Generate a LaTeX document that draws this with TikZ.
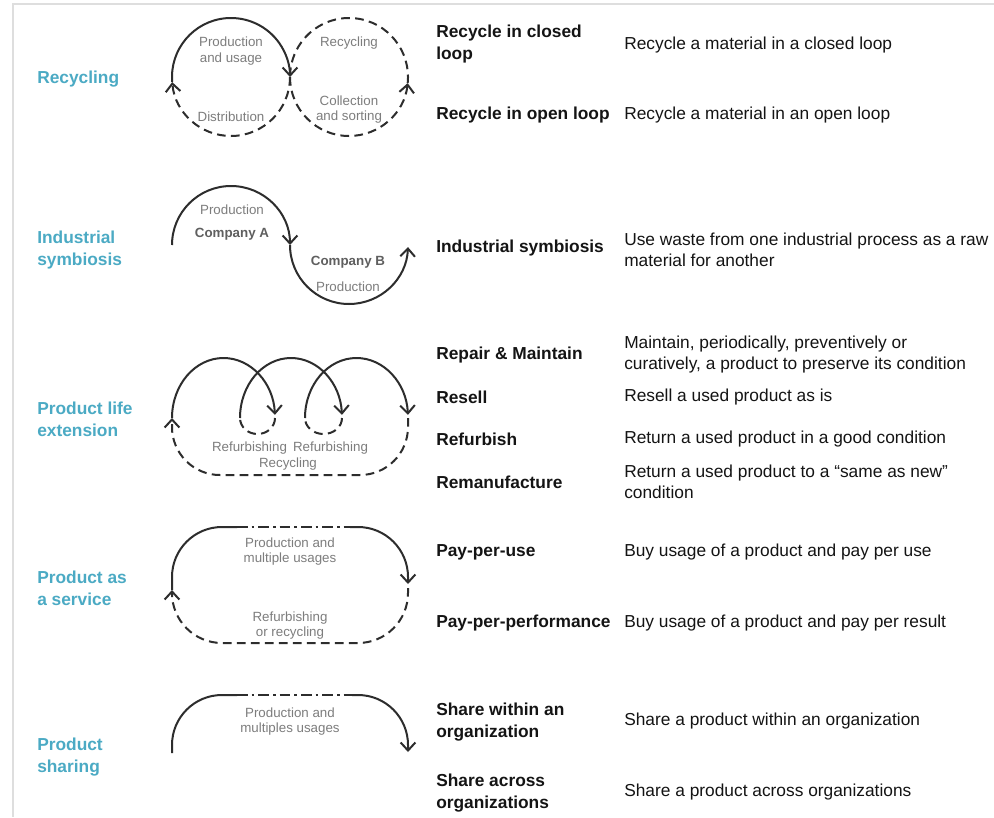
\documentclass[tikz,border=0pt]{standalone}
\usepackage{fontspec}
\setmainfont{Liberation Sans}
\usetikzlibrary{arrows.meta}
\definecolor{teal}{RGB}{75,170,196}
\definecolor{linec}{RGB}{45,45,45}
\definecolor{labgray}{RGB}{125,125,125}
\definecolor{compgray}{RGB}{95,95,95}
\definecolor{framegray}{RGB}{222,222,222}
\definecolor{txt}{RGB}{20,20,20}
\tikzset{
  flow/.style={draw=linec, line width=1.5pt},
  dashflow/.style={flow, dash pattern=on 6.5pt off 4pt},
  dashdot/.style={flow, dash pattern=on 8pt off 3pt on 2pt off 3pt},
  tip/.style={-{Straight Barb[length=6pt,width=11pt]}},
  cat/.style={font=\bfseries\fontsize{13}{16.5}\selectfont, text=teal, align=left, anchor=west, inner sep=0pt, yshift=-1.5pt},
  meth/.style={font=\bfseries\fontsize{13}{16.5}\selectfont, text=txt, align=left, anchor=west, inner sep=0pt, yshift=-1.5pt},
  desc/.style={font=\fontsize{13}{15.75}\selectfont, text=txt, align=left, anchor=west, inner sep=0pt, yshift=-1.5pt},
  lab/.style={font=\fontsize{10}{11.5}\selectfont, text=labgray, align=center, inner sep=0pt, yshift=-1.5pt},
  comp/.style={font=\bfseries\fontsize{10}{11.5}\selectfont, text=compgray, align=center, inner sep=0pt, yshift=-1.5pt}
}
\begin{document}
\begin{tikzpicture}[x=0.75pt,y=-0.75pt]
\useasboundingbox (0,0) rectangle (994,817);
\fill[white] (0,0) rectangle (994,817);
\draw[framegray, line width=1.5pt] (994,4) -- (13,4) -- (13,817);

% ---------- categories ----------
\node[cat] (catRec) at (37,77) {Recycling};
\node[cat] (catInd) at (37,248) {Industrial\\symbiosis};
\node[cat] (catPle) at (37,417) {Product life\\extension};
\node[cat] (catPas) at (37,586) {Product as\\a service};
\node[cat] (catPsh) at (37,755.5) {Product\\sharing};

% ---------- methods ----------
\node[meth] (m1) at (436,42) {Recycle in closed\\loop};
\node[meth] (m2) at (436,113) {Recycle in open loop};
\node[meth] (m3) at (436,246) {Industrial symbiosis};
\node[meth] (m4) at (436,353) {Repair \& Maintain};
\node[meth] (m5) at (436,395) {Resell};
\node[meth] (m6) at (436,437) {Refurbish};
\node[meth] (m7) at (436,480) {Remanufacture};
\node[meth] (m8) at (436,550) {Pay-per-use};
\node[meth] (m9) at (436,621) {Pay-per-performance};
\node[meth] (m10) at (436,720) {Share within an\\organization};
\node[meth] (m11) at (436,791) {Share across\\organizations};

% ---------- descriptions ----------
\node[desc] (d1) at (624,43) {Recycle a material in a closed loop};
\node[desc] (d2) at (624,113) {Recycle a material in an open loop};
\node[desc] (d3) at (624,247.5) {Use waste from one industrial process as a raw\\material for another};
\node[desc] (d4) at (624,352.5) {Maintain, periodically, preventively or\\curatively, a product to preserve its condition};
\node[desc] (d5) at (624,395) {Resell a used product as is};
\node[desc] (d6) at (624,437) {Return a used product in a good condition};
\node[desc] (d7) at (624,479.5) {Return a used product to a “same as new”\\condition};
\node[desc] (d8) at (624,550) {Buy usage of a product and pay per use};
\node[desc] (d9) at (624,621) {Buy usage of a product and pay per result};
\node[desc] (d10) at (624,719) {Share a product within an organization};
\node[desc] (d11) at (624,790) {Share a product across organizations};

% ---------- row 1: recycling ----------
\coordinate (c1) at (231,77);
\coordinate (c2) at (349,77);
\draw[flow, tip] (c1) ++(175:59) arc[start angle=175, end angle=360, radius=59];
\draw[dashflow, tip] (c1) ++(0:59) arc[start angle=0, end angle=175, radius=59];
\draw[dashflow, tip] (c2) ++(180:59) arc[start angle=180, end angle=6, radius=59];
\draw[dashflow] (c2) ++(6:59) arc[start angle=6, end angle=-180, radius=59];
\node[lab] (l1) at (231,49) {Production\\and usage};
\node[lab] (l2) at (231,115) {Distribution};
\node[lab] (l3) at (349,41) {Recycling};
\node[lab] (l4) at (349,107.5) {Collection\\and sorting};

% ---------- row 2: industrial symbiosis ----------
\coordinate (s1) at (231,245);
\coordinate (s2) at (349,245);
\draw[flow, tip] (s1) ++(180:59) arc[start angle=180, end angle=360, radius=59];
\draw[flow, tip] (s2) ++(180:59) arc[start angle=180, end angle=2, radius=59];
\node[lab] (l5) at (232,208) {Production};
\node[comp] (l6) at (232,232) {Company A};
\node[comp] (l7) at (348,260) {Company B};
\node[lab] (l8) at (348,285) {Production};

% ---------- row 3: product life extension ----------
\coordinate (p1) at (172,418);
\coordinate (p2) at (240,418);
\coordinate (p3) at (305,418);
\draw[flow, tip] (p1) arc[start angle=180, end angle=357, x radius=51.5, y radius=60];
\draw[dashflow] (275,418) arc[start angle=0, end angle=180, x radius=17.5, y radius=16];
\draw[flow, tip] (p2) arc[start angle=180, end angle=357, x radius=51, y radius=60];
\draw[dashflow] (342,418) arc[start angle=0, end angle=180, x radius=18.5, y radius=16];
\draw[flow, tip] (p3) arc[start angle=180, end angle=357, x radius=51.5, y radius=60];
\draw[dashflow, tip, rounded corners=36pt] (408,418) -- (408,475) -- (172,475) -- (p1);
\node[lab] (l9) at (249.5,446) {Refurbishing};
\node[lab] (l10) at (330.5,446) {Refurbishing};
\node[lab] (l11) at (288,462) {Recycling};

% ---------- row 4: product as a service ----------
\coordinate (q1) at (172,590);
\draw[flow, rounded corners=37.5pt] (q1) -- (172,527) -- (237,527);
\draw[dashdot] (237,527) -- (350,527);
\draw[flow, tip, rounded corners=37.5pt] (350,527) -- (408,527) -- (408,584);
\draw[dashflow, tip, rounded corners=37.5pt] (408,588) -- (408,643) -- (172,643) -- (q1);
\node[lab] (l12) at (290,549.5) {Production and\\multiple usages};
\node[lab] (l13) at (290,623.5) {Refurbishing\\or recycling};

% ---------- row 5: product sharing ----------
\draw[flow, rounded corners=37.5pt] (172,753) -- (172,695) -- (237,695);
\draw[dashdot] (237,695) -- (352,695);
\draw[flow, tip, rounded corners=37.5pt] (352,695) -- (408,695) -- (408,752);
\node[lab] (l14) at (290,719.5) {Production and\\multiples usages};
\end{tikzpicture}
\end{document}
